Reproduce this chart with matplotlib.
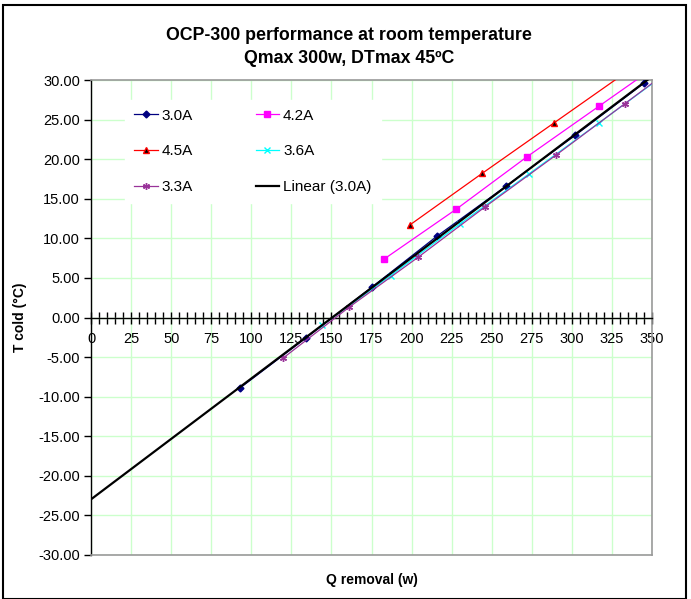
import numpy as np
import matplotlib
matplotlib.use("Agg")
import matplotlib.pyplot as plt
from matplotlib.ticker import MultipleLocator, FormatStrFormatter
from matplotlib.patches import Rectangle

plt.rcParams['font.family'] = ['Liberation Sans', 'DejaVu Sans']

title = "OCP-300 performance at room temperature\nQmax 300w, DTmax 45ºC"
x_label = "Q removal (w)"
y_label = "T cold (°C)"

q_30 = [93, 134, 175, 216, 259, 302, 345]
t_30 = [-8.9, -2.6, 3.8, 10.3, 16.6, 23.0, 29.6]
q_42 = [183, 228, 272, 317, 362]
t_42 = [7.4, 13.7, 20.3, 26.7, 33.1]
q_45 = [199, 244, 289, 334]
t_45 = [11.7, 18.2, 24.6, 31.0]
q_36 = [144, 187, 230, 273, 317, 360]
t_36 = [-1.0, 5.3, 11.8, 18.1, 24.6, 31.0]
q_33 = [120, 161, 204, 246, 290, 333, 376]
t_33 = [-5.1, 1.3, 7.6, 14.0, 20.5, 27.0, 33.5]

fig = plt.figure(figsize=(6.91, 5.99), dpi=100)
ax = fig.add_axes([91/691, 44/599, 561/691, 475/599])

grid_c = '#ccffcc'
ax.set_xlim(0, 350)
ax.set_ylim(-30, 30)
ax.xaxis.set_major_locator(MultipleLocator(25))
ax.xaxis.set_minor_locator(MultipleLocator(5))
ax.yaxis.set_major_locator(MultipleLocator(5))
ax.yaxis.set_major_formatter(FormatStrFormatter('%.2f'))
ax.grid(True, which='major', color=grid_c, lw=1.0, zorder=0)
ax.set_axisbelow(True)

l30, = ax.plot(q_30, t_30, color='#000080', lw=0.9, marker='D', ms=3.5,
               mfc='#000080', mec='#000080', label='3.0A', zorder=3)
l42, = ax.plot(q_42, t_42, color='#ff00ff', lw=0.9, marker='s', ms=5,
               mfc='#ff00ff', mec='#ff00ff', label='4.2A', zorder=3)
l45, = ax.plot(q_45, t_45, color='#ff0000', lw=0.9, marker='^', ms=5,
               mfc='#000000', mec='#ff0000', label='4.5A', zorder=3)
l36, = ax.plot(q_36, t_36, color='#00ffff', lw=0.9, marker='x', ms=4.5,
               mew=1.0, label='3.6A', zorder=3)
l33, = ax.plot(q_33, t_33, color='#993399', lw=0.9, marker=(6, 2, 0), ms=5,
               mew=1.0, label='3.3A', zorder=3)

coef = np.polyfit(q_30, t_30, 1)
xt = np.array([0, 350])
lt, = ax.plot(xt, np.polyval(coef, xt), color='black', lw=1.6,
              label='Linear (3.0A)', zorder=4)

for s in ['top', 'right']:
    ax.spines[s].set_color('#999999')
    ax.spines[s].set_linewidth(1.2)
ax.spines['left'].set_color('black')
ax.spines['left'].set_linewidth(1.0)
ax.spines['bottom'].set_position(('data', 0))
ax.spines['bottom'].set_color('black')
ax.spines['bottom'].set_linewidth(1.0)
ax.plot([0, 1], [0, 0], transform=ax.transAxes, color='#999999', lw=1.2,
        clip_on=False, zorder=5)

ax.tick_params(axis='x', which='major', direction='inout', length=9, width=1.0,
               labelsize=10.5, pad=6)
ax.tick_params(axis='x', which='minor', direction='inout', length=8, width=1.0)
ax.tick_params(axis='y', which='major', direction='out', length=5, width=1.0,
               labelsize=10.5, pad=3)

ax.set_ylabel(y_label, fontsize=10, fontweight='bold', labelpad=8)
fig.text(372/691, 1 - 580/599, x_label, ha='center', va='center',
         fontsize=10, fontweight='bold')
fig.text(349/691, 1 - 47/599, title, ha='center', va='center',
         fontsize=12.8, fontweight='bold', linespacing=1.45)

handles = [l30, l45, l33, l42, l36, lt]
leg = ax.legend(handles=handles, labels=[h.get_label() for h in handles],
                ncol=2, loc='upper left', bbox_to_anchor=(0.047, 0.975),
                frameon=True, fancybox=False, edgecolor='white', framealpha=1,
                fontsize=11, handlelength=1.55, handletextpad=0.25,
                columnspacing=4.1, labelspacing=1.42, borderpad=0.6)
leg.set_zorder(6)

fig.patches.append(Rectangle((3/691, 0), 683/691, 1 - 5/599,
                             transform=fig.transFigure, fill=False,
                             edgecolor='black', lw=1.5, clip_on=False))

fig.savefig('out.png', dpi=100)
